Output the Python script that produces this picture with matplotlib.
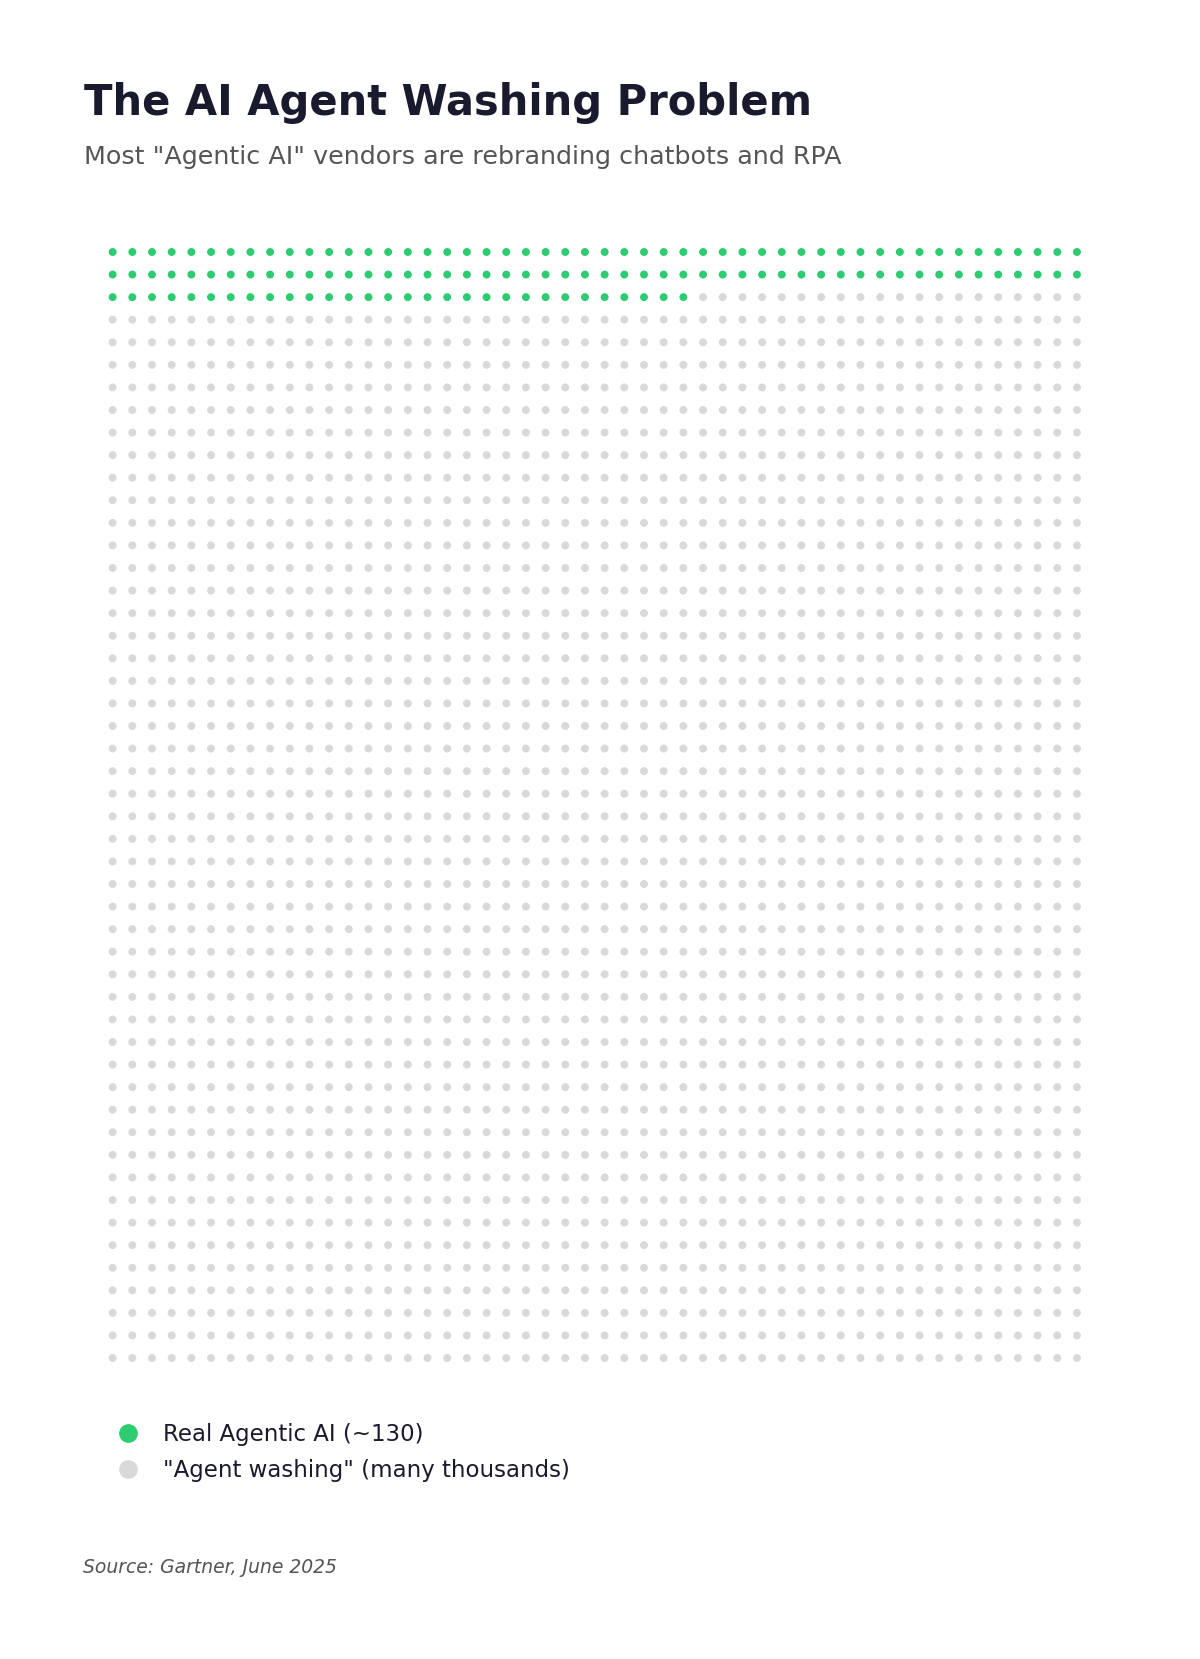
import numpy as np
from matplotlib import pyplot as plt
from matplotlib.lines import Line2D

# waffle data: one dot per vendor bucket
labels = ['Real Agentic AI (~130)', '"Agent washing" (many thousands)']
counts = [130, 2370]
colors = ['#2ecc71', '#d9d9d9']
n_cols = 50
n_rows = 50

title = 'The AI Agent Washing Problem'
subtitle = 'Most "Agentic AI" vendors are rebranding chatbots and RPA'
source = 'Source: Gartner, June 2025'


def waffle_positions(total: int, cols: int):
    idx = np.arange(total)
    return idx % cols, idx // cols


fig = plt.figure(figsize=(8, 11.06), dpi=150)
fig.patch.set_facecolor('white')

W, H = 1200, 1659
ax = fig.add_axes([102.8 / W, 1 - 1369.3 / H, 984 / W, 1128.6 / H])

x, y = waffle_positions(sum(counts), n_cols)
dot_colors = np.repeat(colors, counts)
ax.scatter(x, y, s=14.5, c=dot_colors, linewidths=0)

ax.set_xlim(-0.5, n_cols - 0.5)
ax.set_ylim(n_rows - 0.5, -0.5)
ax.axis('off')

fig.text(84 / W, 1 - 115 / H, title, fontsize=20, fontweight='bold',
         color='#1a1a2e', va='baseline', ha='left')
fig.text(84 / W, 1 - 164.3 / H, subtitle, fontsize=12.2, color='#555555',
         va='baseline', ha='left')
fig.text(83 / W, 1 - 1573.3 / H, source, fontsize=9, style='italic',
         color='#555555', va='baseline', ha='left')

handles = [Line2D([0], [0], marker='o', linestyle='none', markersize=9,
                  markerfacecolor=c, markeredgewidth=0) for c in colors]
fig.legend(handles, labels, loc='upper left',
           bbox_to_anchor=(116.2 / W, 1 - 1423.5 / H),
           frameon=False, fontsize=11, labelcolor='#1a1a2e',
           handlelength=1.0, handletextpad=1.03, labelspacing=0.53,
           borderpad=0, borderaxespad=0)

fig.savefig('out.png', dpi=150, facecolor='white')
